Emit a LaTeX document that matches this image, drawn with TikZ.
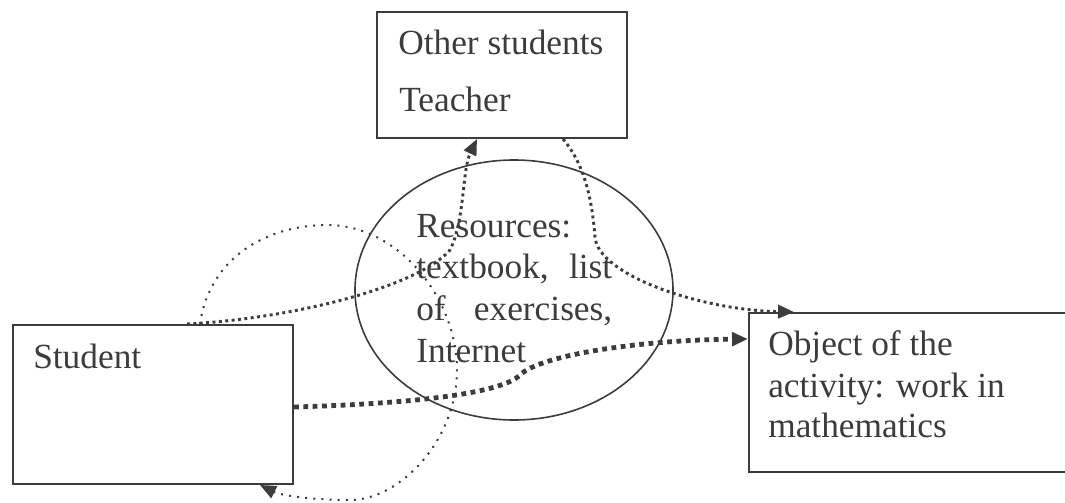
\documentclass[tikz,border=0pt]{standalone}
\usepackage{fontspec}
\setmainfont{Liberation Serif}
\usetikzlibrary{shapes.geometric}
\usetikzlibrary{arrows.meta}
\usetikzlibrary{calc}
\definecolor{ink}{HTML}{3C3C3C}

\begin{document}
\begin{tikzpicture}[x=0.75pt, y=-0.75pt,
    box/.style={draw=ink, line width=1.5pt, rectangle, inner sep=0pt},
    txt/.style={anchor=base west, inner sep=0pt, text=ink, font=\fontsize{26.5}{30}\selectfont},
    fewdots/.style={draw=ink, line width=1.5pt, dash pattern=on 1.5pt off 4.6pt},
    meddots/.style={draw=ink, line width=2.2pt, dash pattern=on 2.2pt off 2.6pt},
    bigdots/.style={draw=ink, line width=3.6pt, dash pattern=on 3.6pt off 3.4pt},
    tip/.style={-{Triangle[length=12pt, width=10pt]}}]
        \useasboundingbox (0,0) rectangle (1065,503);

        % boxes and the ellipse
        \node[box, minimum width=210pt, minimum height=119.25pt] (student) at (153,404.5) {};
        \node[box, minimum width=187.5pt, minimum height=94.5pt] (others) at (502,75) {};
        \node[box, minimum width=244.5pt, minimum height=119.25pt] (object) at (912,392.5) {};
        \node[draw=ink, line width=1.2pt, ellipse, inner sep=0pt,
              minimum width=238.5pt, minimum height=195pt] (resources) at (514,290) {};

        % texts
        \node[txt] (studenttxt) at (33,368) {Student};
        \node[txt] (otherstxt) at (398,55) {Other students};
        \node[txt] (teachertxt) at (399,112) {Teacher};
        \node[txt] (objtxt1) at (768,355) {Object of the};
        \node[txt] (objtxt2) at (768,397) {activity: work in};
        \node[txt] (objtxt3) at (768,437) {mathematics};
        \node[txt] (restxt1) at (416,237) {Resources:};
        \node[txt] (restxt2) at (416,278) {\makebox[147pt][s]{textbook, list}};
        \node[txt] (restxt3) at (416,320) {\makebox[147pt][s]{of exercises,}};
        \node[txt] (restxt4) at (416,362) {Internet};

        % connectors
        \draw[fewdots, tip] ($(student.north)+(47,0)$)
            .. controls (210,255) and (270,225) .. (327,225)
            .. controls (400,225) and (457,300) .. (457,370)
            .. controls (457,440) and (400,500) .. (350,500)
            .. controls (310,500) and (280,495) .. ($(student.south)+(107,0)$);
        \draw[meddots, tip] ($(student.north)+(34,0)$)
            .. controls (300,318) and (420,285) .. (450,250)
            .. controls (465,220) and (462,170) .. ($(others.south)+(-25,0)$);
        \draw[meddots, tip] ($(others.south)+(61,0)$)
            .. controls (585,165) and (592,200) .. (595,237)
            .. controls (598,275) and (700,310) .. ($(object.north west)+(46,0)$);
        \draw[bigdots, tip] ($(student.east)+(0,2.5)$)
            .. controls (400,404) and (500,395) .. (520,375)
            .. controls (540,355) and (640,340) .. ($(object.north west)+(0,27)$);
\end{tikzpicture}
\end{document}
